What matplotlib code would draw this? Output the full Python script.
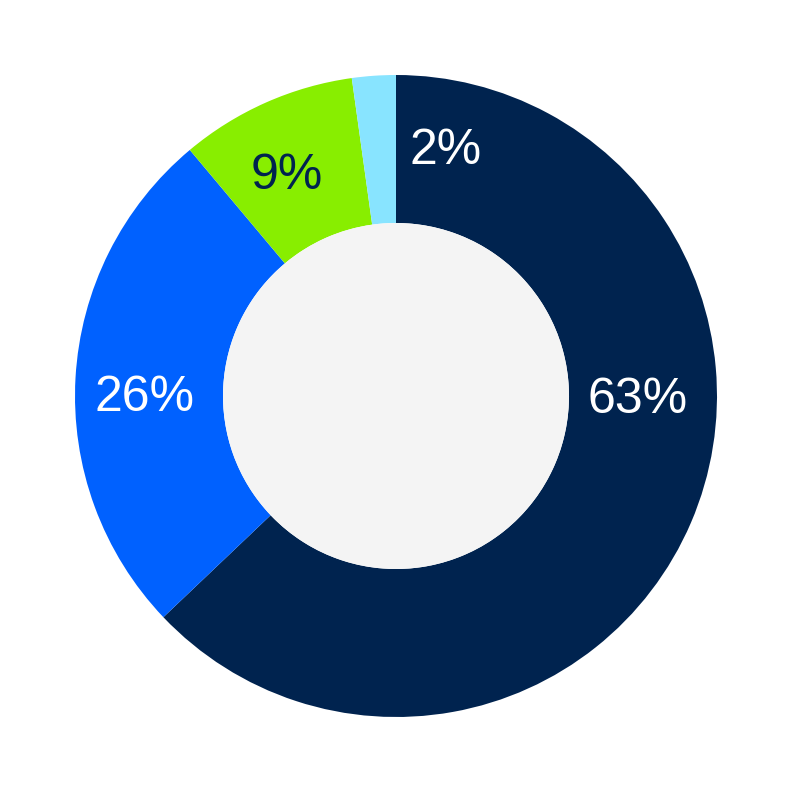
import matplotlib
matplotlib.use("Agg")
import matplotlib.pyplot as plt
from matplotlib.patches import Circle

# Data
categories = ["A", "B", "C", "D"]
values = [62.9, 26.0, 8.9, 2.2]
labels = ["63%", "26%", "9%", "2%"]
colors = ["#00234f", "#0061ff", "#88ee00", "#88e4ff"]
label_colors = ["white", "white", "#00234f", "white"]
# label positions (x, y) relative to outer radius = 1
label_x = [0.754, -0.782, -0.340, 0.153]
label_y = [-0.012, -0.006, 0.684, 0.762]

fig = plt.figure(figsize=(7.92, 7.92), dpi=100)
ax = fig.add_axes([0, 0, 1, 1])
inner = 173 / 321
ax.pie(values, colors=colors, startangle=90, counterclock=False, radius=1.0,
       wedgeprops=dict(width=1 - inner, linewidth=0))
ax.add_patch(Circle((0, 0), inner, facecolor="#f4f4f4", edgecolor="none", zorder=3))
for t, x, y, c in zip(labels, label_x, label_y, label_colors):
    ax.text(x, y, t, color=c, ha="center", va="center", fontsize=36,
            family="Liberation Sans", zorder=4)
lim = 396 / 321
ax.set_xlim(-lim, lim)
ax.set_ylim(-lim, lim)
ax.set_aspect("equal")
ax.axis("off")
fig.savefig("out.png", dpi=100, facecolor="white")
